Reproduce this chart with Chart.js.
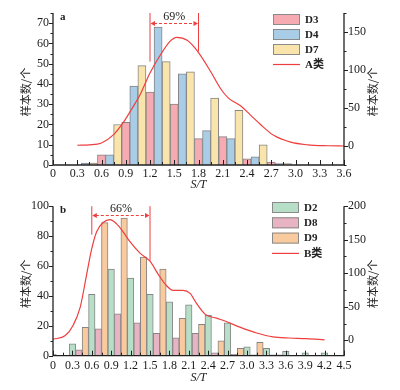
<!DOCTYPE html>
<html><head><meta charset="utf-8">
<script src="https://cdn.jsdelivr.net/npm/chart.js@4.4.1/dist/chart.umd.min.js"></script>
<style>
html,body{margin:0;padding:0;background:#fff;}
#wrap{position:relative;width:400px;height:390px;}
canvas{position:absolute;left:0;display:block;}
#ca{top:0}#cb{top:195px}
</style></head><body>
<div id="wrap"><canvas id="ca" width="400" height="195"></canvas><canvas id="cb" width="400" height="195"></canvas></div>
<script>
// ---------- Panel a data ----------
const xTicksA = [0,0.3,0.6,0.9,1.2,1.5,1.8,2.1,2.4,2.7,3.0,3.3,3.6];
const xTickLabelsA = ['0','0.3','0.6','0.9','1.2','1.5','1.8','2.1','2.4','2.7','3.0','3.3','3.6'];
const yTicksA = [0,10,20,30,40,50,60,70];
const y1TicksA = [0,50,100,150];
const seriesNamesA = ['D3','D4','D7','A类'];
const d3X = [0.6,0.9,1.2,1.5,1.8,2.1,2.4,2.7];
const d3Y = [5,21,36,30,13,14,3,1.5];
const d4X = [0.4,0.7,1.0,1.3,1.6,1.9,2.2,2.5,2.8];
const d4Y = [1,5,39,68,45,17,13,4,0.7];
const d7X = [0.5,0.8,1.1,1.4,1.7,2.0,2.3,2.6,2.9];
const d7Y = [1,20,49,51,46,33,27,10,0.7];
const curveAX = [0.3,0.45,0.6,0.75,0.87,0.97,1.08,1.2,1.33,1.45,1.53,1.66,1.8,1.95,2.07,2.17,2.32,2.44,2.57,2.73,2.94,3.15,3.4,3.6];
const curveAY = [1,1.5,4,15,31,48,68,96,120,138,143,139,123,98,76,63,53,41,28,14,5,1.5,0.3,0];

// ---------- Panel b data ----------
const xTicksB = [0,0.3,0.6,0.9,1.2,1.5,1.8,2.1,2.4,2.7,3.0,3.3,3.6,3.9,4.2,4.5];
const xTickLabelsB = ['0','0.3','0.6','0.9','1.2','1.5','1.8','2.1','2.4','2.7','3.0','3.3','3.6','3.9','4.2','4.5'];
const yTicksB = [0,20,40,60,80,100];
const y1TicksB = [0,50,100,150,200];
const seriesNamesB = ['D2','D8','D9','B类'];
const d2X = [0,0.3,0.6,0.9,1.2,1.5,1.8,2.1,2.4,2.7,3.0,3.3,3.6,3.9,4.2];
const d2Y = [1,8,41,58,52,41,36,34,27,22,6,5,3,2,2];
const d8X = [0.4,0.7,1.0,1.3,1.6,1.9,2.2,2.5,2.8,3.1,3.4];
const d8Y = [4,18,28,22,15,12,15,2,1,0.5,0.5];
const d9X = [0.5,0.8,1.1,1.4,1.7,2.0,2.3,2.6,2.9,3.2,3.5];
const d9Y = [19,89,92,66,58,25,21,10,5,9,0.5];
const curveBX = [0,0.19,0.31,0.42,0.52,0.6,0.675,0.78,0.88,0.98,1.09,1.19,1.345,1.5,1.63,1.76,1.86,2.01,2.12,2.22,2.35,2.53,2.68,2.89,3.15,3.4,3.66,3.92,4.2];
const curveBY = [1.5,7,22,49,98,137,162,176,180,174,161,147,130,118,98,81,74.5,74.5,70,55,39,33,28,19.6,10.8,5,3.4,2.5,0.5];

const zip = (xs, ys) => xs.map((x, i) => ({x, y: ys[i]}));
const SERIF = '"Liberation Serif", "Times New Roman", serif';
const CJK = '"Liberation Serif", "Noto Sans CJK SC", sans-serif';
Chart.defaults.font.family = SERIF;
Chart.defaults.font.size = 12;
Chart.defaults.color = '#1a1a1a';

const mids = (arr, lo, hi) => {
  const st = arr[1] - arr[0], out = [];
  const cand = [arr[0] - st/2, ...arr.map(v => v + st/2)];
  cand.forEach(v => { if (v >= lo - 1e-9 && v <= hi + 1e-9) out.push(v); });
  return out;
};

const decor = {
  id: 'decor',
  afterDraw(chart, args, o) {
    const ctx = chart.ctx, ca = chart.chartArea;
    const sx = chart.scales.x, sy = chart.scales.y, sy1 = chart.scales.y1;
    ctx.save();
    // axis lines
    ctx.strokeStyle = '#222'; ctx.lineWidth = 1.3;
    ctx.beginPath();
    ctx.moveTo(ca.left, ca.top); ctx.lineTo(ca.left, ca.bottom); ctx.lineTo(ca.right, ca.bottom); ctx.lineTo(ca.right, ca.top);
    ctx.stroke();
    ctx.lineWidth = 1;
    const drawX = (vals, len) => vals.forEach(v => {
      const px = Math.round(sx.getPixelForValue(v)) + 0.5;
      ctx.beginPath(); ctx.moveTo(px, ca.bottom); ctx.lineTo(px, ca.bottom - len); ctx.stroke();
    });
    drawX(o.xMajor, 5); drawX(mids(o.xMajor, sx.min, sx.max), 3);
    const drawY = (scale, vals, len, dir, xe) => vals.forEach(v => {
      const py = Math.round(scale.getPixelForValue(v)) + 0.5;
      ctx.beginPath(); ctx.moveTo(xe, py); ctx.lineTo(xe + dir * len, py); ctx.stroke();
    });
    drawY(sy, o.yMajor, 4, -1, ca.left); drawY(sy, mids(o.yMajor, sy.min, sy.max), 2.5, -1, ca.left);
    drawY(sy1, o.y1Major, 4, 1, ca.right); drawY(sy1, mids(o.y1Major, sy1.min, sy1.max), 2.5, 1, ca.right);

    // axis titles
    ctx.fillStyle = '#222';
    ctx.font = '11px "Noto Sans CJK SC", sans-serif';
    ctx.textAlign = 'center'; ctx.textBaseline = 'middle';
    const cy = (ca.top + ca.bottom) / 2 + o.titleDy;
    [[26, cy], [373, cy]].forEach(([tx, ty]) => {
      ctx.save(); ctx.translate(tx, ty); ctx.rotate(-Math.PI / 2);
      ctx.fillText(o.yTitle, 0, 0); ctx.restore();
    });
    ctx.font = 'italic 12px ' + SERIF;
    ctx.fillText(o.xTitle, (ca.left + ca.right) / 2, o.xTitleY);

    // panel letter
    ctx.font = 'bold 11px ' + SERIF;
    ctx.textAlign = 'left';
    ctx.fillText(o.letter, ca.left + 7, ca.top + 4);

    // annotation
    const an = o.ann, red = '#ee3e3e';
    const ax1 = sx.getPixelForValue(an.x1), ax2 = sx.getPixelForValue(an.x2);
    ctx.strokeStyle = red; ctx.fillStyle = red; ctx.lineWidth = 1;
    ctx.beginPath();
    ctx.moveTo(ax1, sy.getPixelForValue(an.yTop)); ctx.lineTo(ax1, sy.getPixelForValue(an.yL));
    ctx.moveTo(ax2, sy.getPixelForValue(an.yTop)); ctx.lineTo(ax2, sy.getPixelForValue(an.yR));
    ctx.stroke();
    const dy = Math.round(sy.getPixelForValue(an.yDash)) + 0.5;
    ctx.setLineDash([3, 2]);
    ctx.beginPath(); ctx.moveTo(ax1 + 4, dy); ctx.lineTo(ax2 - 4, dy); ctx.stroke();
    ctx.setLineDash([]);
    ctx.beginPath();
    ctx.moveTo(ax1 + 0.5, dy); ctx.lineTo(ax1 + 5, dy - 2.5); ctx.lineTo(ax1 + 5, dy + 2.5); ctx.closePath();
    ctx.moveTo(ax2 - 0.5, dy); ctx.lineTo(ax2 - 5, dy - 2.5); ctx.lineTo(ax2 - 5, dy + 2.5); ctx.closePath();
    ctx.fill();
    ctx.fillStyle = '#222';
    ctx.font = '12px ' + SERIF; ctx.textAlign = 'center';
    ctx.fillText(an.text, (ax1 + ax2) / 2, sy.getPixelForValue(an.yText));

    // legend
    const lg = o.legend;
    ctx.textAlign = 'left'; ctx.textBaseline = 'middle';
    chart.data.datasets.forEach((ds, i) => {
      const top = lg.y + i * lg.row;
      if (ds.type === 'line') {
        ctx.strokeStyle = ds.borderColor; ctx.lineWidth = 1.2;
        ctx.beginPath(); ctx.moveTo(lg.x, top + 5.5); ctx.lineTo(lg.x + 27, top + 5.5); ctx.stroke();
      } else {
        ctx.fillStyle = ds.backgroundColor; ctx.fillRect(lg.x, top, 27, 11);
        ctx.strokeStyle = '#8a8a8a'; ctx.lineWidth = 1; ctx.strokeRect(lg.x + 0.5, top + 0.5, 26, 10);
      }
      ctx.fillStyle = '#222';
      ctx.font = 'bold 11px ' + CJK;
      ctx.fillText(ds.label, lg.x + 32, top + 6);
    });
    ctx.restore();
  }
};

function makePanel(id, p) {
  const barDs = (label, xs, ys, color) => ({
    type: 'bar', label, data: zip(xs, ys), backgroundColor: color,
    borderColor: '#858585', borderWidth: 1, borderSkipped: 'bottom',
    yAxisID: 'y', grouped: false, categoryPercentage: 1, barPercentage: 1, order: 2
  });
  const noGrid = { display: false, drawTicks: false, tickLength: 0 };
  return new Chart(document.getElementById(id), {
    type: 'bar',
    data: { datasets: [
      barDs(p.names[0], p.bars[0][0], p.bars[0][1], p.colors[0]),
      barDs(p.names[1], p.bars[1][0], p.bars[1][1], p.colors[1]),
      barDs(p.names[2], p.bars[2][0], p.bars[2][1], p.colors[2]),
      { type: 'line', label: p.names[3], data: zip(p.curve[0], p.curve[1]), yAxisID: 'y1',
        borderColor: '#ee3e3e', borderWidth: 1.2, pointRadius: 0, cubicInterpolationMode: 'monotone',
        fill: false, order: 0 }
    ]},
    options: {
      responsive: false, animation: false, devicePixelRatio: 1,
      layout: { padding: { top: p.top, left: 0, right: 0, bottom: 0 } },
      plugins: { legend: { display: false }, tooltip: { enabled: false }, decor: p.decor },
      scales: {
        x: { type: 'linear', min: p.xMin, max: p.xMax, offset: false,
          grid: noGrid, border: { display: false },
          afterBuildTicks: s => { s.ticks = p.xTicks.map(v => ({value: v})); },
          afterFit: s => { s.height = p.xH; },
          ticks: { autoSkip: false, maxRotation: 0, padding: p.xPad,
            callback: (v, i) => p.xLabels[i] } },
        y: { position: 'left', min: p.yMin, max: p.yMax,
          grid: noGrid, border: { display: false },
          afterBuildTicks: s => { s.ticks = p.yTicks.map(v => ({value: v})); },
          afterFit: s => { s.width = 53; },
          ticks: { padding: 4, callback: v => String(v) } },
        y1: { position: 'right', min: p.y1Min, max: p.y1Max,
          grid: noGrid, border: { display: false },
          afterBuildTicks: s => { s.ticks = p.y1Ticks.map(v => ({value: v})); },
          afterFit: s => { s.width = 56; },
          ticks: { padding: 4, callback: v => String(v) } }
      }
    },
    plugins: [decor]
  });
}

makePanel('ca', {
  names: seriesNamesA,
  bars: [[d3X, d3Y], [d4X, d4Y], [d7X, d7Y]],
  colors: ['#f5abb1', '#a9cce7', '#f9e4ab'],
  curve: [curveAX, curveAY],
  top: 13, xH: 30, xPad: 2,
  xMin: 0, xMax: 3.6, xTicks: xTicksA, xLabels: xTickLabelsA,
  yMin: 0, yMax: 75, yTicks: yTicksA,
  y1Min: -25, y1Max: 175, y1Ticks: y1TicksA,
  decor: { xMajor: xTicksA, yMajor: yTicksA, y1Major: y1TicksA,
    yTitle: '样本数/个', xTitle: 'S/T', xTitleY: 185, titleDy: 3, letter: 'a',
    ann: { x1: 1.2, x2: 1.8, yTop: 75, yL: 51, yR: 56, yDash: 70, yText: 73.3, text: '69%' },
    legend: { x: 273, y: 14, row: 15 } }
});

makePanel('cb', {
  names: seriesNamesB,
  bars: [[d2X, d2Y], [d8X, d8Y], [d9X, d9Y]],
  colors: ['#b7dfc7', '#e8b4c4', '#f9ca9e'],
  curve: [curveBX, curveBY],
  top: 9, xH: 34.3, xPad: 3,
  xMin: 0, xMax: 4.5, xTicks: xTicksB, xLabels: xTickLabelsB,
  yMin: 0, yMax: 100, yTicks: yTicksB,
  y1Min: -23, y1Max: 200, y1Ticks: y1TicksB,
  decor: { xMajor: xTicksB, yMajor: yTicksB, y1Major: y1TicksB,
    yTitle: '样本数/个', xTitle: 'S/T', xTitleY: 183, titleDy: 3, letter: 'b',
    ann: { x1: 0.6, x2: 1.5, yTop: 100, yL: 81, yR: 63.5, yDash: 94, yText: 98.3, text: '66%' },
    legend: { x: 272, y: 7, row: 15.3 } }
});
</script>
</body></html>
